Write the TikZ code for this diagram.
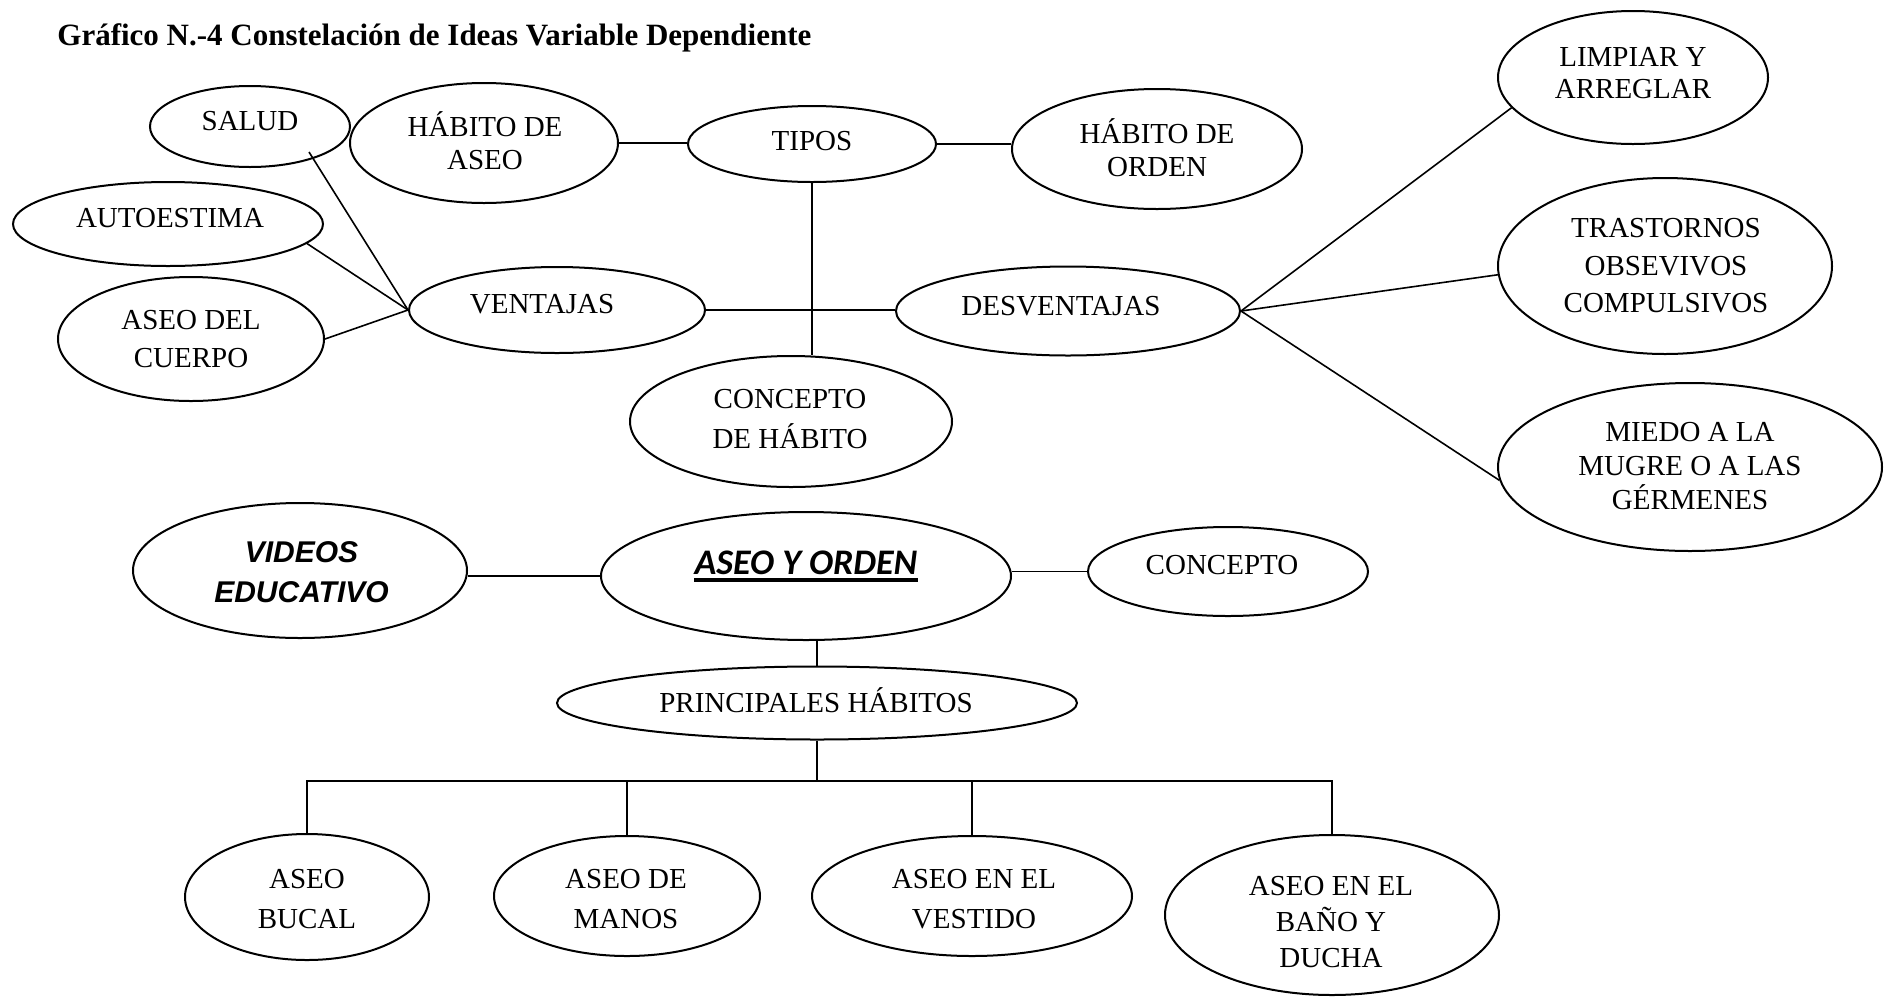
\documentclass[tikz,border=0pt]{standalone}
\usepackage{fontspec}
\setmainfont{Liberation Serif}
\newfontfamily\arialf{Liberation Sans}
\newfontfamily\calibrif{Carlito}
\usetikzlibrary{shapes.geometric,calc}
\begin{document}
\begin{tikzpicture}[x=0.5pt,y=-0.5pt,
  bub/.style={draw, line width=1pt, ellipse, inner sep=0pt},
  lbl/.style={font=\fontsize{14.5}{18}\selectfont, align=center, inner sep=0pt},
  con/.style={line width=0.8pt}]
\fill[white] (0,0) rectangle (1890,997);
\useasboundingbox (0,0) rectangle (1890,997);

% title
\node[anchor=base west, inner sep=0pt, font=\fontsize{15.5}{19}\selectfont\bfseries] (title) at (57,45) {Gráfico N.-4 Constelación de Ideas Variable Dependiente};

% ellipses (minimum width in pt = x radius in px)
\node[bub, minimum width=100pt, minimum height=40.5pt] (salud) at (250,126.5) {};
\node[bub, minimum width=134pt, minimum height=60pt] (haseo) at (484,143) {};
\node[bub, minimum width=124pt, minimum height=38pt] (tipos) at (812,144) {};
\node[bub, minimum width=145pt, minimum height=60pt] (horden) at (1157,149) {};
\node[bub, minimum width=135pt, minimum height=66.5pt] (limpiar) at (1633,77.5) {};
\node[bub, minimum width=155pt, minimum height=42pt] (autoestima) at (168,224) {};
\node[bub, minimum width=148pt, minimum height=43pt] (ventajas) at (557,310) {};
\node[bub, minimum width=172pt, minimum height=44.5pt] (desventajas) at (1068,311) {};
\node[bub, minimum width=167pt, minimum height=88pt] (trastornos) at (1665,266) {};
\node[bub, minimum width=133pt, minimum height=62pt] (cuerpo) at (191,339) {};
\node[bub, minimum width=161pt, minimum height=65.5pt] (chab) at (791,421.5) {};
\node[bub, minimum width=192pt, minimum height=84pt] (miedo) at (1690,467) {};
\node[bub, minimum width=167pt, minimum height=67.5pt] (videos) at (300,570.5) {};
\node[bub, minimum width=205pt, minimum height=64pt] (aseo) at (806,576) {};
\node[bub, minimum width=140pt, minimum height=44.5pt] (concepto) at (1228,571.5) {};
\node[bub, minimum width=260pt, minimum height=36.5pt] (principales) at (817,703) {};
\node[bub, minimum width=122pt, minimum height=63pt] (bucal) at (307,897) {};
\node[bub, minimum width=133pt, minimum height=60pt] (manos) at (627,896) {};
\node[bub, minimum width=160pt, minimum height=60pt] (vestido) at (972,896) {};
\node[bub, minimum width=167pt, minimum height=80pt] (bano) at (1332,915) {};

% texts
\node[lbl, anchor=base] (saludt) at (250,130) {SALUD};
\node[lbl, font=\fontsize{14.5}{16.5}\selectfont] (haseot) at (485,141) {HÁBITO DE\\ASEO};
\node[lbl, anchor=base] (tipost) at (812,150) {TIPOS};
\node[lbl, font=\fontsize{14.5}{16.5}\selectfont] (hordent) at (1157,148) {HÁBITO DE\\ORDEN};
\node[lbl, font=\fontsize{14.5}{16}\selectfont] (limpiart) at (1633,73) {LIMPIAR Y\\ARREGLAR};
\node[lbl, anchor=base] (autoestimat) at (170,227) {AUTOESTIMA};
\node[lbl, anchor=base] (ventajast) at (542,313) {VENTAJAS};
\node[lbl, anchor=base] (desventajast) at (1061,315) {DESVENTAJAS};
\node[lbl, font=\fontsize{14.5}{18.8}\selectfont] (trastornost) at (1666,266) {TRASTORNOS\\OBSEVIVOS\\COMPULSIVOS};
\node[lbl, font=\fontsize{14.5}{19}\selectfont] (cuerpot) at (191,339) {ASEO DEL\\CUERPO};
\node[lbl, font=\fontsize{14.5}{20}\selectfont] (chabt) at (790,419) {CONCEPTO\\DE HÁBITO};
\node[lbl, font=\fontsize{14.5}{16.8}\selectfont] (miedot) at (1690,466) {MIEDO A LA\\MUGRE O A LAS\\GÉRMENES};
\node[lbl, font=\arialf\bfseries\itshape\fontsize{15}{20}\selectfont] (videost) at (301.5,572) {VIDEOS\\EDUCATIVO};
\node[lbl, anchor=base, font=\calibrif\bfseries\itshape\fontsize{18}{21}\selectfont] (aseot) at (806,574) {ASEO Y ORDEN};
\draw[line width=2pt] ($(aseot.base west)+(0,6)$) -- ($(aseot.base east)+(0,6)$);
\node[lbl, anchor=base] (conceptot) at (1222,574) {CONCEPTO};
\node[lbl, anchor=base] (principalest) at (816,712) {PRINCIPALES HÁBITOS};
\node[lbl, font=\fontsize{14.5}{20}\selectfont] (bucalt) at (307,899) {ASEO\\BUCAL};
\node[lbl, font=\fontsize{14.5}{20}\selectfont] (manost) at (626,899) {ASEO DE\\MANOS};
\node[lbl, font=\fontsize{14.5}{20}\selectfont] (vestidot) at (974,899) {ASEO EN EL\\VESTIDO};
\node[lbl, font=\fontsize{14.5}{18}\selectfont] (banot) at (1331,922) {ASEO EN EL\\BAÑO Y\\DUCHA};

% connectors, upper map
\coordinate (saludtail) at (309,152);
\draw[con] (haseo.east) -- (haseo.east -| tipos.west);
\draw[con] (tipos.east) -- (tipos.east -| horden.west);
\draw[con] (tipos.south) -- (tipos.south |- chab.north);
\draw[con] (ventajas.east) -- (ventajas.east -| desventajas.west);
\draw[con] (saludtail) -- (ventajas.west);
\draw[con] (autoestima.-8) -- (ventajas.west);
\draw[con] (cuerpo.east) -- (ventajas.west);
\draw[con] (desventajas.east) -- (limpiar.194);
\draw[con] (desventajas.east) -- (trastornos.183);
\draw[con] (desventajas.east) -- (miedo.184);

% connectors, lower map
\draw[con] (aseo.west) -- (aseo.west -| videos.east);
\draw[con] (concepto.west) -- (concepto.west -| aseo.east);
\draw[con] (principales.north) -- (principales.north |- aseo.south);
\coordinate (hub) at (817,781);
\draw[con] (principales.south) -- (hub);
\draw[con] (bucal.north) |- (hub);
\draw[con] (bano.north) |- (hub);
\draw[con] (manos.north) -- (manos.north |- hub);
\draw[con] (vestido.north) -- (vestido.north |- hub);
\end{tikzpicture}
\end{document}
